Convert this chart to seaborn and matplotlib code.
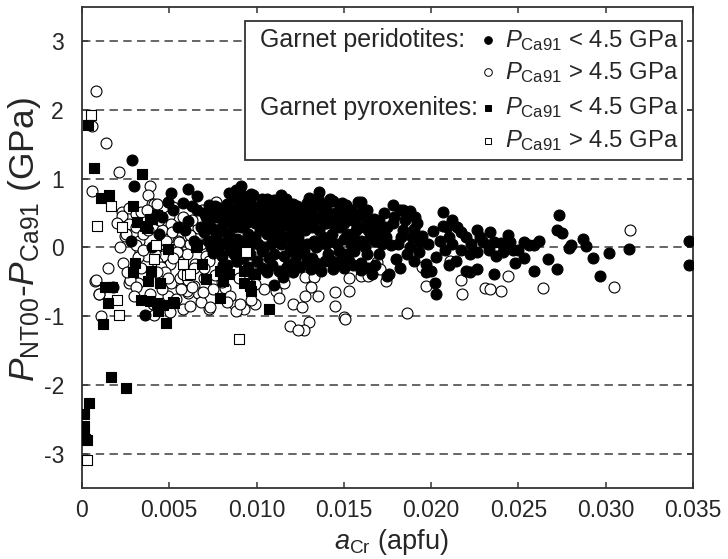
import numpy as np
import pandas as pd
import matplotlib
matplotlib.use("Agg")
import matplotlib.pyplot as plt
import seaborn as sns
from matplotlib.patches import Rectangle

# ---------------------------------------------------------------------------
# Data: a_Cr (apfu) and P_NT00 - P_Ca91 (GPa)
# ---------------------------------------------------------------------------

# Garnet peridotites, P_Ca91 < 4.5 GPa
perid_lo_x = [
    0.00285, 0.0030, 0.0051, 0.0061, 0.0049, 0.0058, 0.0061, 0.0055, 0.0044, 0.0028,
    0.0036, 0.0018, 0.0064, 0.0046, 0.0052, 0.0063, 0.0059, 0.0066, 0.0040,
    0.0066, 0.0068, 0.0070, 0.0071, 0.0073, 0.0073, 0.0074, 0.0075, 0.0076, 0.0076,
    0.0077, 0.0078, 0.0079, 0.0080, 0.0081, 0.0081, 0.0082, 0.0083, 0.0083, 0.0084,
    0.0085, 0.0085, 0.0086, 0.0087, 0.0089, 0.0089, 0.0089, 0.0090, 0.0091, 0.0091,
    0.0092, 0.0093, 0.0094, 0.0095, 0.0096, 0.0097, 0.0097, 0.0098, 0.0098, 0.0099,
    0.0100, 0.0100, 0.0072, 0.0080, 0.0087, 0.0093, 0.0086, 0.0090, 0.0095,
    0.0070, 0.0072, 0.0074, 0.0075, 0.0077, 0.0079, 0.0080, 0.0082, 0.0084, 0.0085,
    0.0087, 0.0088, 0.0090, 0.0092, 0.0094, 0.0096, 0.0097, 0.0099, 0.0078, 0.0083,
    0.0093, 0.0088, 0.0096,
    0.0102, 0.0103, 0.0104, 0.0105, 0.0105, 0.0106, 0.0106, 0.0107, 0.0108, 0.0109,
    0.0109, 0.0110, 0.0110, 0.0110, 0.0111, 0.0112, 0.0113, 0.0113, 0.0114, 0.0115,
    0.0115, 0.0116, 0.0117, 0.0118, 0.0118, 0.0119, 0.0120, 0.0120, 0.0121, 0.0122,
    0.0123, 0.0124, 0.0124, 0.0125, 0.0126, 0.0126, 0.0127, 0.0128, 0.0128, 0.0129,
    0.0101, 0.0103, 0.0116, 0.0122, 0.0129, 0.0108, 0.0119,
    0.0101, 0.0102, 0.0104, 0.0106, 0.0107, 0.0109, 0.0110, 0.0112, 0.0114, 0.0114,
    0.0116, 0.0117, 0.0118, 0.0120, 0.0121, 0.0122, 0.0123, 0.0125, 0.0127, 0.0129,
    0.0129, 0.0103, 0.0111, 0.0119, 0.0124,
    0.0130, 0.0131, 0.0132, 0.0133, 0.0133, 0.0134, 0.0135, 0.0136, 0.0137, 0.0138,
    0.0139, 0.0140, 0.0140, 0.0141, 0.0142, 0.0143, 0.0144, 0.0145, 0.0146, 0.0146,
    0.0147, 0.0148, 0.0149, 0.0149, 0.0150, 0.0151, 0.0152, 0.0153, 0.0153, 0.0154,
    0.0155, 0.0156, 0.0157, 0.0158, 0.0159, 0.0160, 0.0160, 0.0160, 0.0160, 0.0162,
    0.0163, 0.0164, 0.0165, 0.0165, 0.0166, 0.0167, 0.0168, 0.0170, 0.0170,
    0.0136, 0.0144, 0.0150, 0.0132, 0.0159, 0.0140, 0.0168, 0.0138,
    0.0131, 0.0133, 0.0134, 0.0136, 0.0137, 0.0139, 0.0141, 0.0142, 0.0143, 0.0145,
    0.0147, 0.0148, 0.0150, 0.0151, 0.0152, 0.0154, 0.0155, 0.0157, 0.0158, 0.0161,
    0.0162, 0.0164, 0.0166, 0.0169, 0.0135, 0.0144, 0.0156, 0.0163, 0.0132, 0.0149,
    0.0171, 0.0173, 0.0174, 0.0175, 0.0176, 0.0177, 0.0178, 0.0178, 0.0180, 0.0182,
    0.0183, 0.0184, 0.0184, 0.0186, 0.0188, 0.0188, 0.0190, 0.0191, 0.0193, 0.01935,
    0.0195, 0.0197, 0.0197, 0.0200, 0.0201, 0.0202, 0.0203, 0.0203, 0.0207, 0.0207,
    0.0208, 0.0210, 0.0212, 0.0212, 0.0214, 0.0217, 0.0217, 0.0220, 0.0220, 0.0222,
    0.0222, 0.0226, 0.0226, 0.0226, 0.0230, 0.0233, 0.0234, 0.0236, 0.0237,
    0.0172, 0.0175, 0.0179, 0.0181, 0.0185, 0.0189, 0.0192, 0.0198, 0.0205, 0.0209,
    0.0215, 0.0223, 0.0182, 0.0190, 0.0210, 0.0228,
    0.0236, 0.0240, 0.0241, 0.0243, 0.0244, 0.0245, 0.0247, 0.0248, 0.0250, 0.0253,
    0.0253, 0.0256, 0.0259, 0.0259, 0.0262, 0.0267, 0.0272, 0.0273, 0.0272, 0.0275,
    0.0280, 0.0279, 0.0287, 0.0289, 0.0293, 0.0297, 0.0302, 0.03135, 0.0348, 0.0348,
]
perid_lo_y = [
    1.28, 0.90, 0.79, 0.85, 0.66, 0.65, 0.39, 0.30, 0.20, 0.10,
    -0.98, -0.58, 0.10, 0.45, 0.55, 0.60, 0.25, 0.75, 0.00,
    0.55, 0.30, 0.22, 0.45, 0.62, 0.35, 0.00, 0.27, 0.61, 0.12,
    0.44, 0.25, 0.05, -0.12, 0.52, -0.25, 0.36, 0.64, 0.20, 0.80,
    0.39, -0.04, 0.08, 0.72, 0.54, 0.13, -0.19, 0.65, 0.89, 0.30,
    -0.15, -0.04, 0.49, 0.20, 0.68, 0.78, 0.05, 0.76, -0.39, 0.35,
    0.59, -0.19, 0.10, 0.42, 0.30, 0.58, 0.55, 0.03, -0.28,
    0.50, 0.30, 0.52, -0.08, 0.18, 0.58, 0.30, 0.05, 0.55, 0.15,
    -0.10, 0.40, 0.45, 0.10, 0.35, -0.10, 0.45, 0.15, -0.05, -0.25,
    0.75, 0.83, 0.55,
    0.25, 0.70, 0.00, 0.45, 0.55, 0.20, -0.36, -0.15, 0.60, 0.30,
    -0.25, 0.08, 0.69, -0.54, 0.66, 0.20, -0.34, 0.45, 0.76, -0.43,
    0.15, -0.12, 0.70, 0.55, -0.25, 0.30, 0.00, 0.35, 0.64, -0.20,
    0.40, 0.15, -0.10, -0.29, 0.52, 0.28, -0.05, 0.59, 0.25, 0.05,
    0.45, -0.05, 0.40, 0.10, 0.45, 0.05, -0.05,
    0.05, 0.60, 0.35, 0.70, 0.40, 0.50, -0.10, 0.55, 0.30, 0.05,
    0.60, -0.30, 0.15, 0.50, -0.35, 0.25, 0.60, 0.05, 0.40, -0.20,
    0.65, -0.30, 0.40, 0.45, 0.48,
    0.72, -0.31, 0.30, 0.60, 0.10, 0.00, 0.45, 0.81, -0.34, 0.15,
    -0.20, 0.61, 0.35, -0.10, 0.70, 0.20, -0.31, 0.50, 0.05, -0.22,
    0.49, 0.30, -0.15, 0.65, 0.12, 0.62, 0.40, 0.49, -0.19, 0.05,
    0.20, -0.05, 0.45, 0.66, 0.30, 0.10, -0.22, 0.66, -0.33, 0.45,
    -0.10, 0.25, 0.37, 0.15, -0.39, 0.42, 0.10, 0.39, -0.09,
    0.25, 0.40, -0.30, -0.15, 0.50, 0.05, -0.25, 0.55,
    0.50, 0.38, -0.22, 0.05, 0.65, 0.35, 0.50, 0.10, -0.20, 0.30,
    -0.05, 0.60, 0.35, -0.10, 0.20, 0.55, -0.25, 0.25, 0.05, 0.55,
    0.00, -0.30, 0.25, 0.20, 0.72, 0.68, 0.38, 0.55, 0.68, 0.45,
    0.25, 0.50, 0.15, -0.41, -0.39, 0.03, 0.62, 0.35, -0.17, 0.54,
    0.15, 0.54, 0.25, -0.09, 0.53, 0.01, 0.27, 0.44, -0.07, 0.08,
    0.17, -0.24, -0.36, -0.34, 0.24, -0.52, -0.14, -0.68, 0.51, 0.32,
    -0.04, 0.15, 0.05, 0.40, -0.19, 0.22, -0.04, 0.15, -0.34, -0.09,
    -0.35, 0.26, -0.07, -0.32, 0.08, -0.04, 0.22, -0.39, -0.12,
    0.05, 0.30, 0.45, 0.05, 0.40, 0.15, 0.35, 0.05, 0.10, 0.30,
    0.30, 0.05, -0.30, -0.20, -0.25, 0.15,
    0.08, 0.06, -0.07, 0.00, 0.18, 0.08, -0.03, -0.23, -0.04, 0.08,
    -0.15, 0.03, 0.04, -0.34, 0.10, -0.17, -0.31, 0.48, 0.26, 0.21,
    0.04, -0.01, 0.12, 0.02, -0.15, -0.42, -0.08, -0.02, 0.09, -0.25,
]

# Garnet peridotites, P_Ca91 > 4.5 GPa
perid_hi_x = [
    0.0008, 0.00055, 0.0014, 0.0021, 0.0039, 0.0006, 0.0038, 0.0040, 0.00415, 0.0043,
    0.0023, 0.0027, 0.0031, 0.00227, 0.00246, 0.0027, 0.0034, 0.0050, 0.0051, 0.0056,
    0.0061, 0.00666, 0.0069, 0.0077, 0.00328, 0.00332, 0.0037, 0.00447, 0.0050, 0.0055,
    0.0055, 0.00618, 0.00237, 0.00456, 0.0051, 0.00595, 0.0064, 0.00666, 0.0061, 0.0056,
    0.00294, 0.0032, 0.0027, 0.00074, 0.0010, 0.0039, 0.00405, 0.00504, 0.00576, 0.0073,
    0.00107, 0.00412, 0.0082, 0.00876, 0.0093, 0.0093, 0.0088, 0.0073, 0.0065, 0.00078,
    0.00099, 0.0052, 0.0025, 0.0031, 0.0060, 0.0063, 0.0046, 0.0053, 0.0070, 0.0080,
    0.0068, 0.0075, 0.0049, 0.0085, 0.0090, 0.0096, 0.0099, 0.0104, 0.0111, 0.0113,
    0.0116, 0.0099, 0.0106, 0.0105, 0.0128, 0.0133, 0.0131, 0.0128, 0.0135, 0.0121,
    0.0126, 0.0130, 0.0119, 0.0127, 0.0124, 0.0145, 0.0145, 0.0153, 0.0153, 0.0150,
    0.01505, 0.0160, 0.0164, 0.0169, 0.0171, 0.0174, 0.0197, 0.0217, 0.02175, 0.0231,
    0.0186, 0.0211, 0.0195, 0.0240, 0.0244, 0.0264, 0.0305, 0.0314, 0.0234,
    0.00513, 0.00618, 0.00557, 0.00542, 0.00466, 0.00504, 0.0058, 0.00609, 0.00599,
    0.00628, 0.00695, 0.00733, 0.00885, 0.00905, 0.0097, 0.0071, 0.0073, 0.0031,
    0.0032, 0.0035, 0.0042, 0.0043, 0.0045, 0.00475, 0.00275, 0.0031, 0.0094,
    0.0022, 0.0026, 0.0035, 0.0037, 0.0044, 0.0048, 0.0052, 0.0058, 0.0064, 0.0068,
    0.0030, 0.0046, 0.0054, 0.0062, 0.0076, 0.0083, 0.0020, 0.0034, 0.0049, 0.0057,
    0.0070, 0.0015, 0.0038, 0.0043,
]
perid_hi_y = [
    2.28, 1.77, 1.52, 1.10, 0.90, 0.82, 0.76, 0.64, 0.64, 0.64,
    0.52, 0.57, 0.49, 0.46, 0.17, 0.34, 0.51, 0.46, 0.34, 0.17,
    0.17, 0.29, 0.54, 0.66, 0.10, -0.05, -0.12, -0.10, -0.24, -0.07,
    0.10, 0.05, -0.22, -0.39, -0.51, -0.53, -0.56, -0.66, -0.66, -0.44,
    -0.49, -0.51, -0.51, -0.49, -0.68, -0.67, -0.82, -0.94, -0.90, -0.90,
    -1.00, -0.98, -0.59, -0.83, -0.90, -0.05, -0.20, -0.15, -0.24, -0.47,
    -0.68, 0.59, 0.20, 0.30, -0.10, 0.40, 0.25, 0.00, -0.45, -0.50,
    -0.80, -0.60, -0.70, -0.70, -0.45, -0.30, -0.82, -0.60, -0.63, -0.73,
    -0.51, -0.53, -0.14, -0.24, -0.43, -0.43, -0.58, -0.70, -0.70, -0.82,
    -0.86, -1.08, -1.14, -1.20, -1.20, -0.65, -0.85, -0.44, -0.64, -1.01,
    -1.04, -0.42, -0.42, -0.21, -0.31, -0.49, -0.56, -0.47, -0.68, -0.59,
    -0.96, -0.19, -0.29, -0.64, -0.42, -0.59, -0.57, 0.26, -0.60,
    0.22, 0.18, 0.08, -0.07, -0.12, -0.24, -0.39, -0.48, -0.63,
    -0.58, -0.65, -0.87, -0.92, -0.82, -0.77, -0.12, -0.19, 0.03,
    -0.14, -0.04, -0.09, -0.21, -0.29, -0.36, -0.48, -0.58, -0.04,
    0.00, -0.35, 0.20, 0.55, 0.40, 0.10, -0.15, 0.45, -0.30, 0.05,
    -0.70, -0.60, -0.75, -0.85, -0.40, -0.80, 0.35, -0.30, -0.45, -0.60,
    -0.30, -0.30, 0.25, -0.35,
]

# Garnet pyroxenites, P_Ca91 < 4.5 GPa
pyrox_lo_x = [
    0.00036, 0.00069, 0.00344, 0.00107, 0.00156, 0.00294, 0.00317, 0.0037, 0.0039, 0.00431,
    0.00494, 0.00303, 0.00294, 0.00393, 0.0038, 0.00447, 0.00132, 0.0015, 0.00336, 0.0039,
    0.00427, 0.00466, 0.00527, 0.00437, 0.00122, 0.0048, 0.00656, 0.0069, 0.0071, 0.0079,
    0.0078, 0.0079, 0.0084, 0.0081, 0.0093, 0.0096, 0.0099, 0.0107, 0.0097, 0.0036,
    0.0040, 0.0066, 0.0052, 0.0093, 0.00166, 0.00252, 0.00042, 0.00013, 0.00013, 0.00013,
    0.00027, 0.00020, 0.0017,
]
pyrox_lo_y = [
    1.78, 1.16, 1.07, 0.72, 0.76, 0.60, 0.37, 0.29, 0.42, 0.48,
    -0.02, -0.22, -0.35, -0.34, -0.49, -0.51, -0.58, -0.81, -0.77, -0.78,
    -0.81, -0.83, -0.81, -0.93, -1.11, -1.10, 0.00, -0.24, -0.46, -0.73,
    0.07, -0.34, -0.39, -0.49, -0.51, -0.56, -0.39, -0.90, -0.63, 0.32,
    0.42, 0.03, -0.80, -0.34, -1.88, -2.04, -2.26, -2.43, -2.60, -2.76,
    -2.80, -2.78, -0.57,
]

# Garnet pyroxenites, P_Ca91 > 4.5 GPa
pyrox_hi_x = [
    0.0005, 0.00164, 0.00084, 0.00229, 0.00198, 0.00214, 0.0090, 0.00424, 0.0041, 0.0060,
    0.0058, 0.0062, 0.0094, 0.00027,
]
pyrox_hi_y = [
    1.93, 0.60, 0.32, 0.30, -0.77, -0.98, -1.33, 0.04, -0.17, -0.40,
    -0.24, -0.39, -0.07, -3.09,
]

x_ticks = [0, 0.005, 0.010, 0.015, 0.020, 0.025, 0.030, 0.035]
x_tick_labels = ["0", "0.005", "0.010", "0.015", "0.020", "0.025", "0.030", "0.035"]
y_ticks = [-3, -2, -1, 0, 1, 2, 3]
y_tick_labels = ["-3", "-2", "-1", "0", "1", "2", "3"]

legend_groups = ["Garnet peridotites:", "Garnet pyroxenites:"]
legend_labels = [
    r"$P_{\mathrm{Ca91}}$ < 4.5 GPa",
    r"$P_{\mathrm{Ca91}}$ > 4.5 GPa",
    r"$P_{\mathrm{Ca91}}$ < 4.5 GPa",
    r"$P_{\mathrm{Ca91}}$ > 4.5 GPa",
]

# ---------------------------------------------------------------------------
# Style
# ---------------------------------------------------------------------------
sns.set_theme(style="white")
plt.rcParams["font.family"] = ["Liberation Sans", "DejaVu Sans"]
plt.rcParams["mathtext.fontset"] = "custom"
plt.rcParams["mathtext.rm"] = "Liberation Sans"
plt.rcParams["mathtext.it"] = "Liberation Sans:italic"
plt.rcParams["mathtext.bf"] = "Liberation Sans:bold"

fig = plt.figure(figsize=(7.28, 5.59), dpi=100)
ax = fig.add_axes([0.1126, 0.127, 0.8393, 0.8605])

ax.set_xlim(0, 0.035)
ax.set_ylim(-3.5, 3.5)

for yv in y_ticks:
    ax.axhline(yv, color="#3c3c3c", lw=1.1, ls=(0, (5.5, 3.5)), zorder=1)

circle_s = 62
square_s = 50
sns.scatterplot(x=perid_hi_x, y=perid_hi_y, marker="o", s=circle_s, color="white",
                edgecolor="black", linewidth=0.8, ax=ax, zorder=3)
sns.scatterplot(x=perid_lo_x, y=perid_lo_y, marker="o", s=circle_s, color="black",
                edgecolor="black", linewidth=0.8, ax=ax, zorder=4)
sns.scatterplot(x=pyrox_hi_x, y=pyrox_hi_y, marker="s", s=square_s, color="white",
                edgecolor="black", linewidth=0.8, ax=ax, zorder=5)
sns.scatterplot(x=pyrox_lo_x, y=pyrox_lo_y, marker="s", s=square_s, color="black",
                edgecolor="black", linewidth=0.8, ax=ax, zorder=6)

ax.set_xticks(x_ticks)
ax.set_xticklabels(x_tick_labels)
ax.set_yticks(y_ticks)
ax.set_yticklabels(y_tick_labels)
ax.tick_params(axis="both", which="major", labelsize=16.5, direction="in",
               length=4, width=1.1, color="#333333",
               top=True, bottom=True, left=True, right=True)
ax.tick_params(axis="x", pad=8)
ax.tick_params(axis="y", pad=13)

for side in ["left", "right", "top", "bottom"]:
    ax.spines[side].set_color("#333333")
    ax.spines[side].set_linewidth(1.3)
    ax.spines[side].set_visible(True)

ax.set_xlabel(r"$a_{\mathrm{Cr}}$ (apfu)", fontsize=19.5)
ax.set_ylabel(r"$P_{\mathrm{NT00}}$-$P_{\mathrm{Ca91}}$ (GPa)", fontsize=25.5)
ax.xaxis.set_label_coords(0.506, -0.081)
ax.yaxis.set_label_coords(-0.064, 0.517)

# Legend box with grouped entries
box = Rectangle((0.267, 0.682), 0.715, 0.289, transform=ax.transAxes,
                facecolor="white", edgecolor="#333333", lw=1.3, zorder=10)
ax.add_patch(box)
row_y = [0.931, 0.864, 0.790, 0.7215]
ax.text(0.291, row_y[0], legend_groups[0], transform=ax.transAxes, fontsize=18,
        va="center", ha="left", zorder=11)
ax.text(0.291, row_y[2], legend_groups[1], transform=ax.transAxes, fontsize=18,
        va="center", ha="left", zorder=11)
leg_markers = [("o", "black"), ("o", "white"), ("s", "black"), ("s", "white")]
for (mk, fc), ry, lab in zip(leg_markers, row_y, legend_labels):
    ax.plot([0.664], [ry], marker=mk, ms=5.5 if mk == "o" else 5, mfc=fc, mec="black",
            mew=0.7, transform=ax.transAxes, zorder=11, clip_on=False, ls="none")
    ax.text(0.693, ry, lab, transform=ax.transAxes, fontsize=17.2,
            va="center", ha="left", zorder=11)

fig.savefig("out.png", dpi=100)
